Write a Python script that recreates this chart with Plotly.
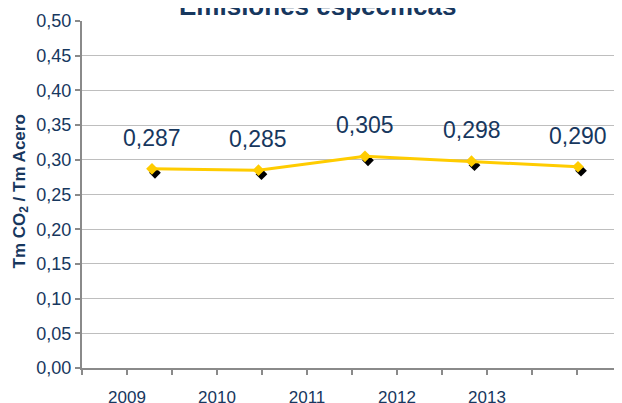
import plotly.graph_objects as go

years = [2009, 2010, 2011, 2012, 2013]
values = [0.287, 0.285, 0.305, 0.298, 0.290]
title_text = "Emisiones específicas"
ytitle_text = "Tm CO<sub>2</sub> / Tm Acero"

NAVY = "#17375E"
GOLD = "#FFCC00"
GRAY = "#8A8A8A"
FONT = "Liberation Sans, Arial, sans-serif"

# data x-range (years) of the visible axis
xr = [2008.343, 2013.413]
plot_w = 540.0
unit_px = plot_w / (xr[1] - xr[0])
minor_step = 45.0 / unit_px            # tick marks every 45 px
label_vals = [xr[0] + minor_step * (2 * i + 1) for i in range(len(years))]
label_text = [str(y) for y in years]

# shadow offset (px) expressed in axis units
sh_x = 3.0 / unit_px
sh_y = 4.0 * 0.5 / 347.3

fig = go.Figure()

# shadow markers (main, hidden axes)
fig.add_trace(go.Scatter(
    x=years, y=values, mode="markers", xaxis="x", yaxis="y",
    marker=dict(symbol="diamond", size=9, color="black"),
    hoverinfo="skip", showlegend=False))

# main series (visible overlay axes)
fig.add_trace(go.Scatter(
    x=years, y=values, mode="lines+markers", xaxis="x2", yaxis="y2",
    line=dict(color=GOLD, width=3),
    marker=dict(symbol="diamond", size=9, color=GOLD),
    showlegend=False))

annotations = []
for yr, v in zip(years, values):
    annotations.append(dict(
        x=yr, y=v, xref="x2", yref="y2", text=f"{v:.3f}".replace(".", ","),
        showarrow=False, yshift=31, font=dict(family=FONT, size=23, color=NAVY)))

annotations.append(dict(
    x=0.437, y=1, xref="paper", yref="paper", xanchor="center", yanchor="bottom",
    yshift=-2, text=f"<b>{title_text}</b>", showarrow=False,
    font=dict(family=FONT, size=26, color=NAVY)))

annotations.append(dict(
    x=0, y=0.5, xref="paper", yref="paper", xanchor="center", yanchor="middle",
    xshift=-62, yshift=3, textangle=-90, text=f"<b>{ytitle_text}</b>",
    showarrow=False, font=dict(family=FONT, size=17, color=NAVY)))

fig.update_layout(
    width=614, height=395,
    margin=dict(l=74, r=0, t=13, b=35, autoexpand=False),
    paper_bgcolor="white", plot_bgcolor="white",
    separators=",.",
    showlegend=False,
    annotations=annotations,
    xaxis=dict(range=[xr[0] - sh_x, xr[1] - sh_x], visible=False, automargin=False),
    yaxis=dict(range=[sh_y, 0.5 + sh_y], visible=False, automargin=False),
    xaxis2=dict(
        overlaying="x", anchor="y2", side="bottom", automargin=False,
        range=xr, tickmode="array", tickvals=label_vals, ticktext=label_text,
        showgrid=False, zeroline=False, showline=True, linecolor=GRAY, linewidth=2,
        ticks="outside", ticklen=5, tickcolor=GRAY, tickwidth=1.5,
        minor=dict(tick0=xr[0], dtick=minor_step, ticks="outside", ticklen=5,
                   tickcolor=GRAY, tickwidth=1.5, showgrid=False),
        ticklabelstandoff=8,
        tickfont=dict(family=FONT, size=17, color=NAVY)),
    yaxis2=dict(
        overlaying="y", anchor="x2", side="left", automargin=False,
        range=[0, 0.5], dtick=0.05, tickformat=".2f",
        showgrid=True, gridcolor="#BEBEBE", gridwidth=1,
        zeroline=False, showline=True, linecolor=GRAY, linewidth=2,
        ticks="outside", ticklen=5, tickcolor=GRAY, tickwidth=1.5,
        tickfont=dict(family=FONT, size=18, color=NAVY)),
)

fig.write_html("out.html")
